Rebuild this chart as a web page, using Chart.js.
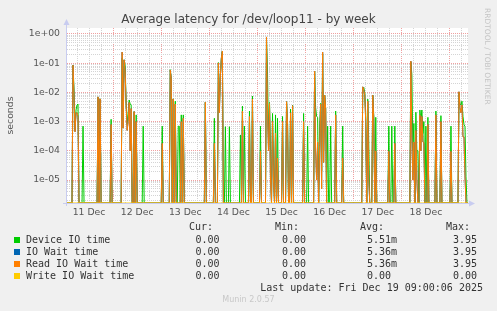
<!DOCTYPE html>
<html>
<head>
<meta charset="utf-8">
<script src="https://cdn.jsdelivr.net/npm/chart.js@4"></script>
<style>
  body { margin: 0; background: #f0f0f0; }
  #wrap { position: relative; width: 497px; height: 311px; overflow: hidden; }
  #c { position: absolute; left: 0; top: 0; }
  .t { position: absolute; white-space: pre; line-height: 12px; }
  .mono { font: 10px "DejaVu Sans Mono", monospace; color: #333; }
  .sq { position: absolute; width: 6px; height: 6px; }
</style>
</head>
<body>
<div id="wrap">
  <canvas id="c" width="497" height="311"></canvas>
  <div class="t" style="left:0;width:497px;top:12px;line-height:15px;text-align:center;font:12px 'DejaVu Sans';color:#444">Average latency for /dev/loop11 - by week</div>
  <div class="t" style="left:483px;top:8px;writing-mode:vertical-rl;font:7.5px 'DejaVu Sans';color:#c4c4c4;line-height:9px">RRDTOOL / TOBI OETIKER</div>
  <div id="legend"></div>
  <div class="t" style="left:0;width:497px;top:295px;text-align:center;font:8px 'DejaVu Sans';color:#c8c8c8">Munin 2.0.57</div>
</div>
<script>
// half-hour slots since 11 Dec 01:00 where something non-zero was recorded
const slotIdx = [6, 7, 8, 9, 10, 11, 16, 31, 33, 44, 55, 56, 57, 58, 59, 60, 61, 62, 63, 64, 67, 69, 76,
  95, 103, 104, 106, 108, 111, 112, 114, 116, 138, 147, 151, 152, 153, 154, 155, 158, 162, 173, 175, 177,
  182, 185, 193, 199, 200, 201, 202, 203, 205, 206, 208, 210, 215, 219, 220, 223, 225, 236, 240, 247, 248,
  249, 250, 252, 253, 254, 255, 256, 257, 258, 260, 263, 268, 275, 295, 296, 297, 298, 300, 301, 305, 306,
  308, 321, 324, 327, 343, 344, 345, 346, 348, 349, 350, 352, 353, 354, 355, 356, 358, 360, 368, 373, 383,
  391, 392, 393, 394, 395, 396, 397, 398];

const deviceIO = [0.085, 0.012, 5e-4, 2.5e-3, 3.7e-3, 4e-3, 7e-4, 7e-3, 6e-3, 1.2e-3, 0.15, 5e-3, 0.13, 0.08,
  4e-3, 8e-4, 2e-3, 5.5e-3, 4e-3, 3.7e-3, 2.2e-3, 1.7e-3, 7e-4,
  7e-4, 0.06, 0.03, 6e-3, 5e-3, 7e-4, 7e-4, 1.7e-3, 1.7e-3, 4.6e-3, 1.3e-3, 0.105, 3e-3, 0.04, 0.15, 0.26,
  6.7e-4, 6.7e-4, 3.5e-4, 3.4e-3, 7e-4,
  2.3e-3, 7.5e-3, 7e-4, 0.7, 0.05, 3e-4, 4.5e-3, 1e-4, 1.9e-3, 3e-5, 1.7e-3, 1.3e-3, 1.5e-3, 4.8e-3, 1e-3,
  2.7e-3, 3.7e-3, 1.9e-3, 7e-4, 0.053, 3e-3,
  1.5e-3, 1.4e-3, 7e-4, 4.2e-3, 2e-5, 0.2, 1e-4, 8e-3, 2.8e-3, 7e-4, 7e-4, 2.3e-3, 7e-4, 0.012, 0.015, 0.01,
  1.9e-3, 5.9e-3, 2e-4, 8e-3, 1.6e-3,
  1.4e-3, 7e-4, 7e-4, 7e-4, 0.11, 0.04, 1e-4, 8.7e-4, 2.1e-3, 1e-4, 1e-4, 2.5e-3, 1e-3, 2.5e-3, 4e-4, 1e-3,
  7e-4, 1.4e-3, 2.3e-3, 1.6e-3, 7e-4,
  0.01, 4e-3, 3.7e-3, 5e-3, 1.5e-3, 8e-4, 6.7e-4, 1.3e-5];

const readWait = [0.085, 0.007, 4.5e-4, 2e-3, 2e-3, 1.5e-3, 0, 7e-3, 6e-3, 8e-4, 0.24, 6e-4, 0.13, 0.05,
  3.7e-3, 5e-4, 1e-3, 4.5e-3, 1e-4, 2.8e-3, 2.2e-3, 1e-3, 0,
  1.8e-4, 0.058, 0.03, 6e-3, 4e-3, 0, 0, 1e-3, 1.3e-3, 4.6e-3, 1.8e-4, 0.1, 2e-3, 0.04, 0.15, 0.26,
  0, 0, 0, 2.3e-3, 0,
  1.5e-3, 5.9e-3, 9.6e-5, 0.79, 2e-3, 1e-4, 4.2e-3, 1e-5, 1e-3, 1e-5, 4e-4, 5.7e-5, 1e-3, 4.8e-3, 8e-4,
  2e-3, 3.5e-3, 1e-3, 0, 0.053, 1e-4,
  1e-5, 2e-4, 1.5e-4, 4e-3, 5e-6, 0.24, 4e-5, 8e-3, 2.8e-3, 0, 0, 1.7e-3, 5.7e-5, 0.0155, 0.012, 0.008,
  1e-3, 5e-3, 1e-5, 8e-3, 1.2e-3,
  1e-4, 9.6e-5, 0, 1.8e-4, 0.117, 3e-4, 1e-5, 2e-4, 5e-4, 1e-5, 0, 1.7e-3, 1e-4, 1.5e-3, 2e-4, 1.9e-4,
  0, 8e-4, 1.7e-3, 1e-3, 9.6e-5,
  0.0105, 3e-3, 2e-3, 3.7e-3, 3e-4, 3e-4, 1.4e-5, 0];

const ioWait = readWait;   // same figures as read wait on this device
const writeWait = [];      // never non-zero

const xTickLabels = ['11 Dec', '12 Dec', '13 Dec', '14 Dec', '15 Dec', '16 Dec', '17 Dec', '18 Dec'];
const yDecades = [1, 0.1, 0.01, 0.001, 0.0001, 0.00001];
const yTickLabels = ['1e+00', '1e-01', '1e-02', '1e-03', '1e-04', '1e-05'];

const legendNames = ['Device IO time', 'IO Wait time', 'Read IO Wait time', 'Write IO Wait time'];
const legendColors = ['#00cc00', '#0066b3', '#ff8000', '#ffcc00'];
const curVals = ['0.00', '0.00', '0.00', '0.00'];
const minVals = ['0.00', '0.00', '0.00', '0.00'];
const avgVals = ['5.51m', '5.36m', '5.36m', '0.00 '];
const maxVals = ['3.95', '3.95', '3.95', '0.00'];
const lastUpdate = 'Last update: Fri Dec 19 09:00:06 2025';

const SLOTS = 400;      // 30 minute steps, 11 Dec 01:00 .. 19 Dec 09:00 (hours 1..201)
const Y_MIN = 1.64e-6;
const Y_MAX = 1.6;

function buildSeries(vals) {
  let full = new Array(SLOTS + 1).fill(0);
  slotIdx.forEach(function (s, k) {
    if (k < vals.length) full[s] = vals[k];
  });
  return full.map(function (v, i) {
    return { x: 1 + i / 2, y: v > 0 ? v : Y_MIN };
  });
}

function isDecade(v) {
  return yDecades.some(function (d) { return Math.abs(v - d) / d < 1e-6; });
}

let gridValues = [];
for (let e = -6; e <= 0; e++) {
  for (let m = 1; m <= 9; m++) {
    let v = m * Math.pow(10, e);
    if (v >= Y_MIN && v <= Y_MAX) gridValues.push(v);
  }
}

let plotDeco = {
  id: 'plotDeco',
  beforeDraw(chart) {
    let a = chart.chartArea, ctx = chart.ctx;
    ctx.save();
    ctx.fillStyle = '#ffffff';
    ctx.fillRect(a.left, a.top, a.right - a.left, a.bottom - a.top);
    ctx.restore();
  },
  afterDraw(chart) {
    let a = chart.chartArea, ctx = chart.ctx;
    ctx.save();
    ctx.strokeStyle = '#c8ccf0';
    ctx.fillStyle = '#c8ccf0';
    ctx.lineWidth = 1;
    ctx.beginPath();
    ctx.moveTo(66.5, a.bottom + 3);
    ctx.lineTo(66.5, 24);
    ctx.moveTo(63, a.bottom + 0.5);
    ctx.lineTo(470, a.bottom + 0.5);
    ctx.stroke();
    ctx.beginPath();
    ctx.moveTo(63.5, 25); ctx.lineTo(69.5, 25); ctx.lineTo(66.5, 19); ctx.closePath();
    ctx.fill();
    ctx.beginPath();
    ctx.moveTo(469, a.bottom - 2.5); ctx.lineTo(469, a.bottom + 3.5); ctx.lineTo(475, a.bottom + 0.5); ctx.closePath();
    ctx.fill();
    ctx.restore();
  }
};

let axisFont = { family: 'DejaVu Sans', size: 9.3 };

let myChart = new Chart(document.getElementById('c'), {
  type: 'line',
  data: {
    datasets: [
      { label: legendNames[0], data: buildSeries(deviceIO), borderColor: legendColors[0], order: 3 },
      { label: legendNames[1], data: buildSeries(ioWait), borderColor: legendColors[1], order: 2 },
      { label: legendNames[2], data: buildSeries(readWait), borderColor: legendColors[2], order: 1 },
      { label: legendNames[3], data: buildSeries(writeWait), borderColor: legendColors[3], order: 0 }
    ]
  },
  options: {
    responsive: false,
    animation: false,
    devicePixelRatio: 1,
    parsing: false,
    normalized: true,
    layout: { padding: { left: 0, top: 28, right: 29, bottom: 90 } },
    elements: {
      line: { borderWidth: 1, tension: 0, fill: false },
      point: { radius: 0 }
    },
    plugins: { legend: { display: false }, title: { display: false }, tooltip: { enabled: false } },
    scales: {
      x: {
        type: 'linear',
        min: 1,
        max: 201,
        afterFit(scale) { scale.height = 18; },
        afterBuildTicks(scale) {
          let t = [];
          for (let h = 6; h <= 198; h += 6) t.push({ value: h });
          scale.ticks = t;
        },
        ticks: {
          autoSkip: false,
          maxRotation: 0,
          padding: 4,
          color: '#555',
          font: axisFont,
          callback: function (v) { return v % 24 === 12 ? xTickLabels[Math.floor(v / 24)] : ''; }
        },
        grid: {
          drawTicks: false,
          color: function (ctx) { return ctx.tick && ctx.tick.value % 24 === 0 ? '#f0a0a0' : '#d4d4d4'; }
        },
        border: { display: false, dash: [1, 1] }
      },
      y: {
        type: 'logarithmic',
        min: Y_MIN,
        max: Y_MAX,
        afterFit(scale) { scale.width = 67; },
        afterBuildTicks(scale) {
          scale.ticks = gridValues.map(function (v) { return { value: v }; });
        },
        ticks: {
          autoSkip: false,
          padding: 7,
          color: '#555',
          font: axisFont,
          callback: function (v) {
            let k = yDecades.findIndex(function (d) { return Math.abs(v - d) / d < 1e-6; });
            return k >= 0 ? yTickLabels[k] : '';
          }
        },
        grid: {
          drawTicks: false,
          color: function (ctx) { return ctx.tick && isDecade(ctx.tick.value) ? '#f0a0a0' : '#d4d4d4'; }
        },
        border: { display: false, dash: [1, 1] },
        title: { display: true, text: 'seconds', color: '#555', font: axisFont, padding: { top: 5, bottom: 0 } }
      }
    }
  },
  plugins: [plotDeco]
});

// legend table under the plot
let leg = document.getElementById('legend');
function put(text, left, top, right) {
  let s = document.createElement('span');
  s.className = 't mono';
  s.textContent = text;
  s.style.top = top + 'px';
  if (right !== undefined) {
    s.style.right = (497 - right) + 'px';
  } else {
    s.style.left = left + 'px';
  }
  leg.appendChild(s);
}
put('Cur:', 0, 221, 213);
put('Min:', 0, 221, 299);
put('Avg:', 0, 221, 384);
put('Max:', 0, 221, 470);
legendNames.forEach(function (name, i) {
  let top = 234 + i * 12;
  let sq = document.createElement('div');
  sq.className = 'sq';
  sq.style.left = '14px';
  sq.style.top = (top + 3) + 'px';
  sq.style.background = legendColors[i];
  leg.appendChild(sq);
  put(name, 26, top);
  put(curVals[i], 0, top, 219.5);
  put(minVals[i], 0, top, 306);
  put(avgVals[i], 0, top, 397);
  put(maxVals[i], 0, top, 477);
});
put(lastUpdate, 0, 282, 483);
</script>
</body>
</html>
